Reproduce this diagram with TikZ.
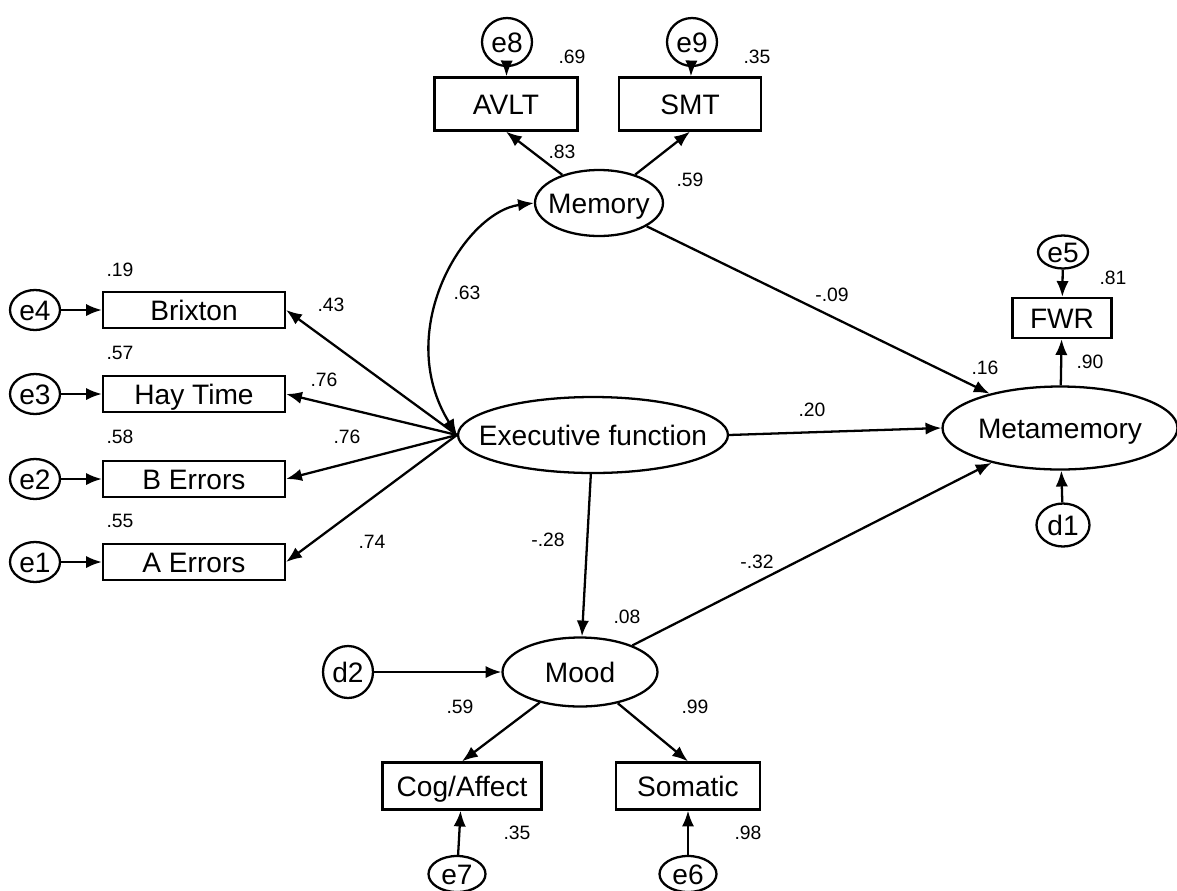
\documentclass[tikz,border=0pt]{standalone}
\usepackage{fontspec}
\setmainfont{Liberation Sans}
\usepackage{tikz}
\usetikzlibrary{arrows.meta,shapes,positioning,calc}
\tikzstyle{arrow} = [line width=1.3pt,-{Latex[length=9pt,width=7pt]}]
\tikzstyle{twoway} = [line width=1.3pt,{Latex[length=9pt,width=7pt]}-{Latex[length=9pt,width=7pt]}]
\tikzstyle{observed} = [rectangle, draw, line width=1.3pt, minimum height=0.72cm, inner sep=0pt, text height=11.5pt, text depth=0pt, font=\fontsize{16}{18}\selectfont]
\tikzstyle{latent} = [ellipse, draw, line width=1.3pt, inner sep=0pt, text height=11.5pt, text depth=0pt, font=\fontsize{16}{18}\selectfont]
\tikzstyle{errterm} = [ellipse, draw, line width=1.3pt, inner sep=0pt, minimum width=1cm, minimum height=0.8cm, text height=11.5pt, text depth=0pt, font=\fontsize{16}{18}\selectfont]
\tikzstyle{coef} = [font=\fontsize{11}{13}\selectfont, inner sep=0pt]

\begin{document}
\begin{tikzpicture}[x=0.02cm, y=-0.02cm]
    \useasboundingbox (0,0) rectangle (1177,890);

    % Latent variables (text kept out of the ellipse size)
    \node[latent, minimum width=2.56cm, minimum height=1.32cm] (mem) at (599,203) {\makebox[0pt]{Memory}};
    \node[latent, minimum width=5.4cm, minimum height=1.52cm] (ef) at (593,435) {\makebox[0pt]{Executive function}};
    \node[latent, minimum width=4.7cm, minimum height=1.66cm] (meta) at (1060,428) {\makebox[0pt]{Metamemory}};
    \node[latent, minimum width=3.1cm, minimum height=1.38cm] (mood) at (580,672) {\makebox[0pt]{Mood}};

    % Observed variables
    \node[observed, minimum width=2.86cm, minimum height=1.06cm] (avlt) at (506,104) {AVLT};
    \node[observed, minimum width=2.84cm, minimum height=1.06cm] (smt) at (690,104) {SMT};
    \node[observed, minimum width=3.64cm] (brix) at (194,310) {Brixton};
    \node[observed, minimum width=3.64cm] (hay) at (194,394) {Hay Time};
    \node[observed, minimum width=3.64cm] (berr) at (194,479) {B Errors};
    \node[observed, minimum width=3.64cm] (aerr) at (194,562) {A Errors};
    \node[observed, minimum width=1.98cm, minimum height=0.8cm] (fwr) at (1062,318) {FWR};
    \node[observed, minimum width=3.18cm, minimum height=0.94cm] (cog) at (462,786) {Cog/Affect};
    \node[observed, minimum width=2.88cm, minimum height=0.94cm] (som) at (688,786) {Somatic};

    % Error and disturbance terms
    \node[errterm, minimum height=0.96cm] (e8) at (507,42) {e8};
    \node[errterm, minimum height=0.96cm] (e9) at (692,42) {e9};
    \node[errterm] (e4) at (35,310) {e4};
    \node[errterm] (e3) at (35,394) {e3};
    \node[errterm] (e2) at (35,479) {e2};
    \node[errterm] (e1) at (35,562) {e1};
    \node[errterm, minimum height=0.66cm] (e5) at (1063,252) {e5};
    \node[errterm, minimum width=1.06cm, minimum height=0.86cm] (d1) at (1063,525) {d1};
    \node[errterm, minimum height=1.04cm] (d2) at (348,672) {d2};
    \node[errterm, minimum width=1.14cm, minimum height=0.72cm] (e7) at (457,874) {e7};
    \node[errterm, minimum width=1.14cm, minimum height=0.72cm] (e6) at (688,874) {e6};

    % Paths
    \draw[arrow] (mem) -- (avlt.south);
    \draw[arrow] (mem) -- (smt.south);
    \draw[arrow] (e8) -- (avlt);
    \draw[arrow] (e9) -- (smt);
    \draw[twoway] (mem.west) .. controls (465,212) and (392,330) .. (ef.west);
    \draw[arrow] (ef.west) -- (brix.east);
    \draw[arrow] (ef.west) -- (hay.east);
    \draw[arrow] (ef.west) -- (berr.east);
    \draw[arrow] (ef.west) -- (aerr.east);
    \foreach \e/\b in {e4/brix, e3/hay, e2/berr, e1/aerr}
        \draw[arrow] (\e) -- (\b);
    \draw[arrow] (mem) -- (meta);
    \draw[arrow] (ef.east) -- (meta.west);
    \draw[arrow] (mood) -- (meta);
    \draw[arrow] (meta) -- (fwr);
    \draw[arrow] (e5) -- (fwr);
    \draw[arrow] (d1) -- (meta);
    \draw[arrow] (ef) -- (mood);
    \draw[arrow] (d2) -- (mood);
    \draw[arrow] (mood) -- (cog.north);
    \draw[arrow] (mood) -- (som.north);
    \draw[arrow] (e7) -- (cog);
    \draw[arrow] (e6) -- (som);

    % Estimates
    \node[coef] (r-brix) at (120,270) {.19};
    \node[coef] (r-hay) at (120,353) {.57};
    \node[coef] (r-berr) at (120,437) {.58};
    \node[coef] (r-aerr) at (120,521) {.55};
    \node[coef] (l-brix) at (331,305) {.43};
    \node[coef] (l-hay) at (324,380) {.76};
    \node[coef] (l-berr) at (347,437) {.76};
    \node[coef] (l-aerr) at (372,542) {.74};
    \node[coef] (cov) at (467,293) {.63};
    \node[coef] (r-avlt) at (572,57) {.69};
    \node[coef] (r-smt) at (757,57) {.35};
    \node[coef] (l-avlt) at (562,152) {.83};
    \node[coef] (l-smt) at (690,180) {.59};
    \node[coef] (b-mem) at (832,295) {-.09};
    \node[coef] (b-ef) at (812,410) {.20};
    \node[coef] (r-fwr) at (1113,278) {.81};
    \node[coef] (r-meta) at (985,368) {.16};
    \node[coef] (l-fwr) at (1090,362) {.90};
    \node[coef] (b-efmood) at (548,540) {-.28};
    \node[coef] (r-mood) at (627,617) {.08};
    \node[coef] (b-mood) at (757,562) {-.32};
    \node[coef] (l-cog) at (460,707) {.59};
    \node[coef] (l-som) at (695,707) {.99};
    \node[coef] (r-cog) at (517,833) {.35};
    \node[coef] (r-som) at (748,833) {.98};
\end{tikzpicture}
\end{document}
